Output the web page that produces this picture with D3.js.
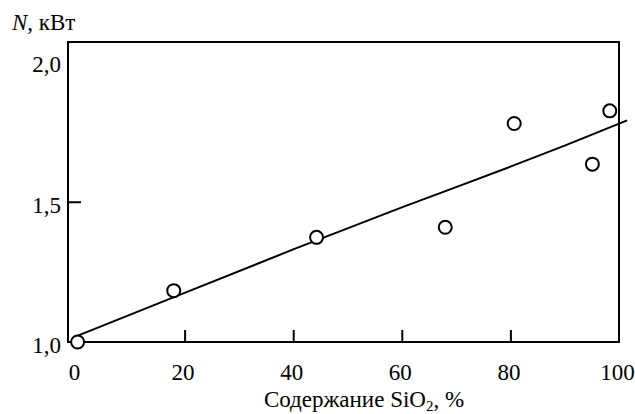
<!DOCTYPE html>
<html>
<head>
<meta charset="utf-8">
<script src="https://cdn.jsdelivr.net/npm/d3@7"></script>
<style>
  body { margin: 0; background: #fff; }
  svg { display: block; }
  .axis path { display: none; }
  .axis line { stroke: #000; stroke-width: 2; }
</style>
</head>
<body>
<svg></svg>
<script>
// measured points: SiO2 content (%) and power N (kW)
const sioContent = [0.3, 18, 44.3, 68, 80.7, 95.1, 98.3]
const powerValues = [1.0, 1.183, 1.373, 1.409, 1.779, 1.634, 1.824]

// trend line
const trendX = [0, 20, 40, 60, 70, 80, 90, 101.5]
const trendY = [1.02, 1.175, 1.33, 1.48, 1.552, 1.625, 1.70, 1.79]

const xTicks = [0, 20, 40, 60, 80, 100]
const yTicks = [1.0, 1.5, 2.0]

const serif = "Liberation Serif"

const svg = d3.select("svg")
  .attr("width", 635)
  .attr("height", 414)
  .style("font-family", serif)

const xScale = d3.scaleLinear()
  .domain([0, 100])
  .range([76, 619])

const yScale = d3.scaleLinear()
  .domain([1.0, 2.0])
  .range([342, 61.5])

const ruFormat = d3.formatLocale({ decimal: ",", thousands: " ", grouping: [3], currency: ["", ""] })

// frame
svg.append("rect")
  .attr("x", 68)
  .attr("y", 42)
  .attr("width", xScale(100) - 68)
  .attr("height", yScale(1.0) - 42)
  .attr("fill", "none")
  .attr("stroke", "#000")
  .attr("stroke-width", 2)

const xAxis = d3.axisBottom(xScale)
  .tickValues(xTicks)
  .tickSizeInner(-12)
  .tickSizeOuter(0)
  .tickPadding(22)
  .tickFormat(d3.format("d"))

const xg = svg.append("g")
  .attr("class", "axis")
  .attr("transform", `translate(0, ${yScale(1.0)})`)
  .call(xAxis)

xg.selectAll(".tick line")
  .attr("display", (d) => { return (d === 0 || d === 100) ? "none" : null })
xg.selectAll(".tick text")
  .attr("dx", "-2")
  .style("font-family", serif)
  .style("font-size", "23px")
  .attr("fill", "#000")

const yAxis = d3.axisLeft(yScale)
  .tickValues(yTicks)
  .tickSizeInner(-13)
  .tickSizeOuter(0)
  .tickPadding(7)
  .tickFormat(ruFormat.format(".1f"))

const yg = svg.append("g")
  .attr("class", "axis")
  .attr("transform", "translate(68, 0)")
  .call(yAxis)

yg.selectAll(".tick line")
  .attr("display", (d) => { return d === 1.5 ? null : "none" })
yg.selectAll(".tick text")
  .attr("dy", "0.45em")
  .style("font-family", serif)
  .style("font-size", "23px")
  .attr("fill", "#000")

// trend line
const line = d3.line()
  .x((d) => { return xScale(d[0]) })
  .y((d) => { return yScale(d[1]) })

svg.append("path")
  .attr("d", line(d3.zip(trendX, trendY)))
  .attr("fill", "none")
  .attr("stroke", "#000")
  .attr("stroke-width", 2)

// circles
svg.append("g")
  .selectAll("circle")
  .data(d3.zip(sioContent, powerValues))
  .enter()
  .append("circle")
  .attr("cx", (d) => { return xScale(d[0]) })
  .attr("cy", (d) => { return yScale(d[1]) })
  .attr("r", 6.5)
  .attr("fill", "#fff")
  .attr("stroke", "#000")
  .attr("stroke-width", 2)

// axis titles
const yTitle = svg.append("text")
  .attr("x", 12)
  .attr("y", 30)
  .attr("font-size", 23)
yTitle.append("tspan").attr("font-style", "italic").text("N")
yTitle.append("tspan").text(", кВт")

const xTitle = svg.append("text")
  .attr("x", 364)
  .attr("y", 407)
  .attr("font-size", 23)
  .attr("text-anchor", "middle")
xTitle.append("tspan").text("Содержание SiO")
xTitle.append("tspan").attr("font-size", 15).attr("dy", 4).text("2")
xTitle.append("tspan").attr("dy", -4).text(", %")
</script>
</body>
</html>
